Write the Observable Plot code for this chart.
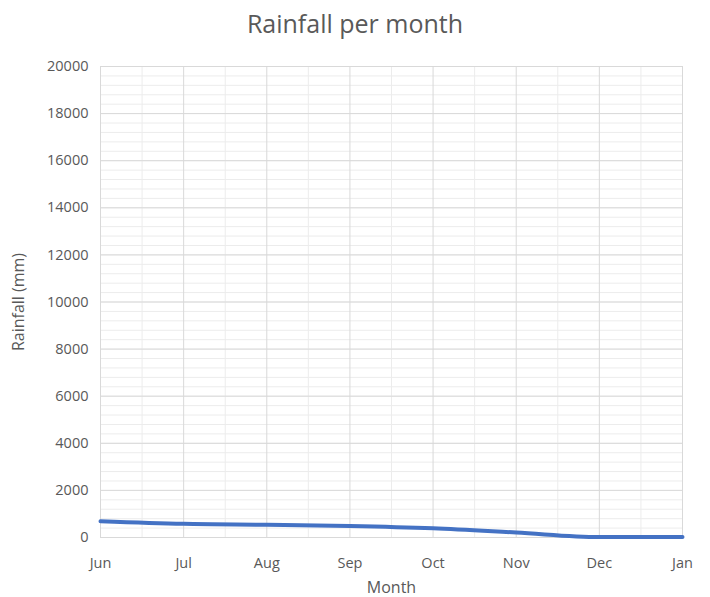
<!DOCTYPE html>
<html>
<head>
<meta charset="utf-8">
<script src="https://cdn.jsdelivr.net/npm/d3@7"></script>
<script src="https://cdn.jsdelivr.net/npm/@observablehq/plot@0.6"></script>
<style>
  body { margin: 0; background: #fff; font-family: "Open Sans", "Noto Sans", sans-serif; }
  #wrap { width: 710px; }
  h2 { margin: 0; height: 50px; line-height: 46px; text-align: center; font-weight: 400; font-size: 25px; color: #595959; }
  #chart svg g[aria-label="y-axis label"] text,
  #chart svg g[aria-label="x-axis label"] text { font-size: 16px; }
</style>
</head>
<body>
<div id="wrap">
  <h2>Rainfall per month</h2>
  <div id="chart"></div>
</div>
<script>
const months = ["Jun", "Jul", "Aug", "Sep", "Oct", "Nov", "Dec", "Jan"];
const rainfall = [690, 580, 540, 490, 390, 210, 20, 20];
const yMajorTicks = [0, 2000, 4000, 6000, 8000, 10000, 12000, 14000, 16000, 18000, 20000];

const data = months.map((m, i) => ({month: m, i, rain: rainfall[i]}));
const yMinor = d3.range(0, 20001, 400);

const chart = Plot.plot({
  width: 710,
  height: 547,
  marginLeft: 100,
  marginRight: 28,
  marginTop: 16,
  marginBottom: 60,
  style: {fontFamily: "'Open Sans', 'Noto Sans', sans-serif", fontSize: "14.5px", color: "#595959"},
  x: {domain: [0, months.length - 1], ticks: months.map((m, i) => i), tickFormat: i => months[i]},
  y: {domain: [0, 20000], ticks: yMajorTicks, tickFormat: d => String(d)},
  marks: [
    // minor gridlines
    Plot.ruleY(yMinor, {stroke: "#ececec", strokeWidth: 1}),
    Plot.ruleX(months.slice(1), {x: (d, i) => i + 0.5, stroke: "#ececec", strokeWidth: 1}),
    // major gridlines
    Plot.ruleY(yMajorTicks, {stroke: "#d9d9d9", strokeWidth: 1}),
    Plot.ruleX(data, {x: "i", stroke: "#d9d9d9", strokeWidth: 1}),
    Plot.axisY({ticks: yMajorTicks, tickSize: 0, tickPadding: 12, tickFormat: d => String(d), label: "Rainfall (mm)", labelAnchor: "center", labelArrow: "none", labelOffset: 88}),
    Plot.axisX({ticks: months.map((m, i) => i), tickFormat: i => months[i], tickSize: 0, tickPadding: 20, label: "Month", labelAnchor: "center", labelArrow: "none", labelOffset: 55}),
    Plot.line(data, {x: "i", y: "rain", stroke: "#4472c4", strokeWidth: 4, curve: "monotone-x"})
  ]
});
document.getElementById("chart").appendChild(chart);
</script>
</body>
</html>
